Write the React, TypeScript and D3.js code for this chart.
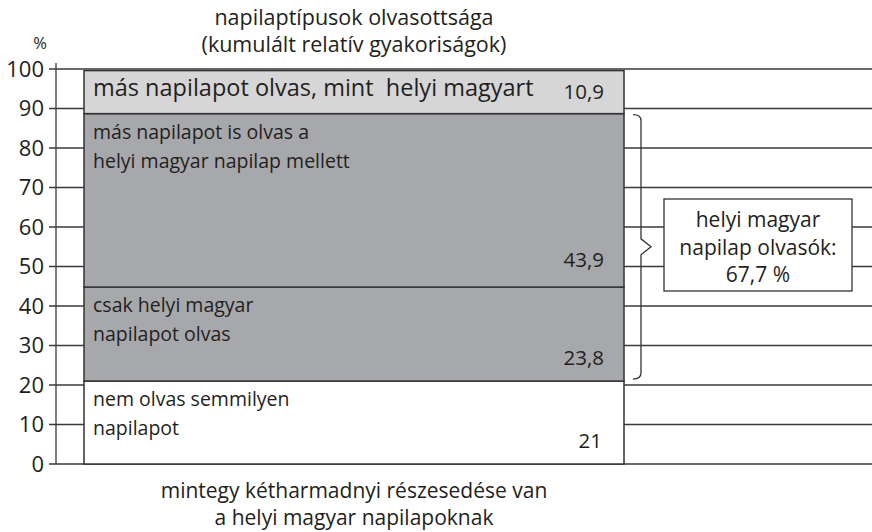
import React from 'react';
import * as d3 from 'd3';

// stacked from bottom to top
const segmentKeys = ['semmi', 'csakHelyi', 'helyiMellett', 'mas'];
const segmentValues = [21, 23.8, 43.9, 10.9];
const segmentLabels = [
  ['nem olvas semmilyen', 'napilapot'],
  ['csak helyi magyar', 'napilapot olvas'],
  ['más napilapot is olvas a', 'helyi magyar napilap mellett'],
  ['más napilapot olvas, mint\u00a0 helyi magyart'],
];
const valueLabels = ['21', '23,8', '43,9', '10,9'];
const segmentFills = ['#ffffff', '#a7a8ab', '#a7a8ab', '#d6d6d7'];
const yTicks = [0, 10, 20, 30, 40, 50, 60, 70, 80, 90, 100];

const titleLines = ['napilaptípusok olvasottsága', '(kumulált relatív gyakoriságok)'];
const footLines = ['mintegy kétharmadnyi részesedése van', 'a helyi magyar napilapoknak'];
const boxLines = ['helyi magyar', 'napilap olvasók:', '67,7 %'];

const width = 872;
const height = 532;
const ink = '#231f20';
const font = "'Open Sans', sans-serif";

export default function App() {
  const y = d3.scaleLinear().domain([0, 100]).range([464, 69]);
  const axisX = 56;
  const barX0 = 84;
  const barX1 = 624;

  const stack = d3.stack<Record<string, number>>().keys(segmentKeys);
  const row: Record<string, number> = {};
  segmentKeys.forEach((k, i) => (row[k] = segmentValues[i]));
  const series = stack([row]);

  // bracket around the two "helyi magyar" segments
  const bTop = y(series[2][0][1]) + 1;
  const bBot = y(series[1][0][0]) - 2;
  const bMid = (bTop + bBot) / 2;
  const bracket = `M633,${bTop} Q641,${bTop} 641,${bTop + 6} L641,${bMid - 8} L651,${bMid} L641,${bMid + 8} L641,${bBot - 6} Q641,${bBot} 633,${bBot}`;

  const fs = (n: number) => `${n}px`;

  return (
    <svg width={width} height={height} style={{ display: 'block', position: 'absolute', left: 0, top: 0 }}
      fontFamily={font} fill={ink}>
      <rect width={width} height={height} fill="#fff" />

      {/* title */}
      {titleLines.map((t, i) => (
        <text key={t} x={354} y={25 + i * 27} textAnchor="middle" fontSize={fs(21.5)}>{t}</text>
      ))}
      <text x={40} y={49} textAnchor="middle" fontSize={fs(16.5)}>%</text>

      {/* gridlines and ticks */}
      {yTicks.map((t) => (
        <g key={t}>
          <line x1={axisX - 7} x2={width} y1={y(t)} y2={y(t)} stroke="#3a3a3a" strokeWidth={1.3} />
          <text x={44} y={y(t) + 7.5} textAnchor="end" fontSize={fs(22)}>{t}</text>
        </g>
      ))}
      <line x1={axisX} x2={axisX} y1={y(100) - 6} y2={y(0)} stroke="#3a3a3a" strokeWidth={1.3} />

      {/* stacked bar */}
      {series.map((s, i) => {
        const top = y(s[0][1]);
        const bot = y(s[0][0]);
        return (
          <rect key={s.key} x={barX0} y={top} width={barX1 - barX0} height={bot - top}
            fill={segmentFills[i]} stroke="#333" strokeWidth={1.5} />
        );
      })}

      {series.map((s, i) => {
        const top = y(s[0][1]);
        const bot = y(s[0][0]);
        const big = i === 3;
        const vy = big ? top + 28 : bot - (i === 2 ? 20 : 16);
        return (
          <g key={s.key + 't'}>
            {segmentLabels[i].map((l, j) => (
              <text key={l} x={barX0 + 9} y={top + 25 + j * 29}
                fontSize={fs(big ? 23.5 : 19.5)}>{l}</text>
            ))}
            <text x={i === 0 ? 602 : 604} y={vy} textAnchor="end" fontSize={fs(20.5)}>{valueLabels[i]}</text>
          </g>
        );
      })}

      {/* bracket */}
      <path d={bracket} fill="none" stroke="#333" strokeWidth={1.3} />

      {/* annotation box */}
      <rect x={664} y={199} width={188} height={92} fill="#fff" stroke="#333" strokeWidth={1.3} />
      {boxLines.map((t, i) => (
        <text key={t} x={758} y={227 + i * 27.5} textAnchor="middle" fontSize={fs(21)}>{t}</text>
      ))}

      {/* footnote */}
      {footLines.map((t, i) => (
        <text key={t} x={354} y={498 + i * 27} textAnchor="middle" fontSize={fs(21)}>{t}</text>
      ))}
    </svg>
  );
}
